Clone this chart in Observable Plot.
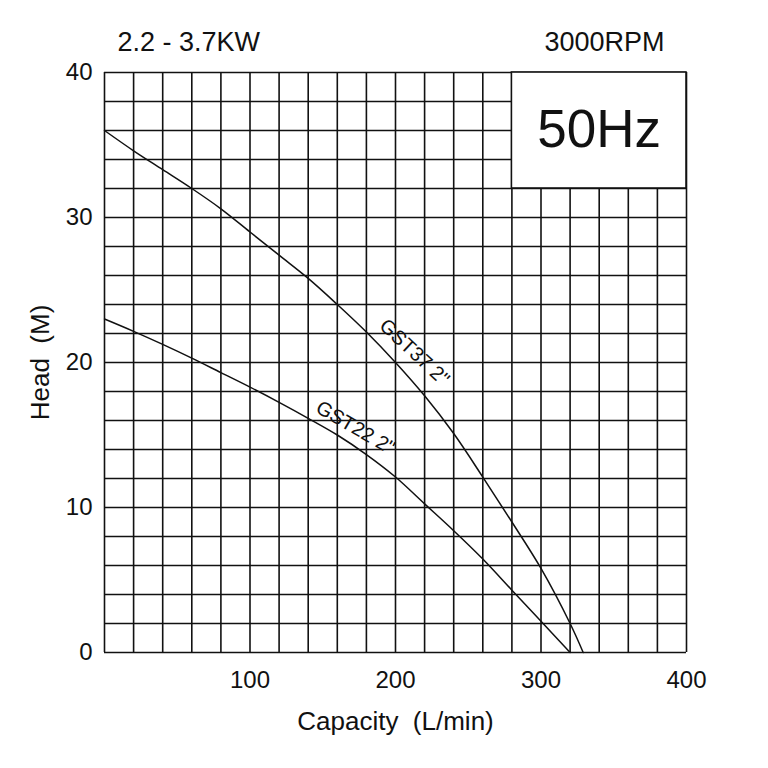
<!DOCTYPE html>
<html>
<head>
<meta charset="utf-8">
<script src="https://cdn.jsdelivr.net/npm/d3@7"></script>
<script src="https://cdn.jsdelivr.net/npm/@observablehq/plot@0.6"></script>
<style>
  html, body { margin: 0; padding: 0; background: #fff; }
  #chart { width: 768px; height: 768px; }
</style>
</head>
<body>
<div id="chart"></div>
<script>
// ---- data ----
const gst37Capacity = [0, 20, 40, 60, 80, 100, 120, 140, 160, 180, 200, 220, 240, 260, 280, 300, 320, 329];
const gst37Head     = [36, 34.6, 33.3, 32.0, 30.6, 29.0, 27.4, 25.8, 24.0, 22.1, 20.0, 17.7, 15.1, 12.1, 9.0, 5.8, 2.0, 0];
const gst22Capacity = [0, 20, 40, 60, 80, 100, 120, 140, 160, 180, 200, 220, 240, 260, 280, 300, 320];
const gst22Head     = [23.0, 22.15, 21.25, 20.3, 19.3, 18.3, 17.25, 16.15, 15.0, 13.65, 12.1, 10.25, 8.4, 6.45, 4.3, 2.15, 0];
const xTicks = [100, 200, 300, 400];
const yTicks = [0, 10, 20, 30, 40];
const xGrid = d3.range(0, 401, 20);
const yGrid = d3.range(0, 41, 2);
const curveLabels = [
  {name: "GST37 2\"", capacity: 213, head: 20.7, angle: 43},
  {name: "GST22 2\"", capacity: 172.5, head: 15.5, angle: 30}
];
const freqBox = {x1: 280, x2: 400, y1: 32, y2: 40, label: "50Hz"};
const powerText = "2.2 - 3.7KW";
const speedText = "3000RPM";
const xTitle = "Capacity\u00a0 (L/min)";
const yTitle = "Head\u00a0 (M)";

const gst37 = gst37Capacity.map((c, i) => ({capacity: c, head: gst37Head[i]}));
const gst22 = gst22Capacity.map((c, i) => ({capacity: c, head: gst22Head[i]}));

const font = "'Liberation Sans', Arial, sans-serif";

const chart = Plot.plot({
  width: 768,
  height: 768,
  marginLeft: 104,
  marginRight: 82,
  marginTop: 72,
  marginBottom: 116,
  style: {fontFamily: font, fontSize: "24px", background: "#fff", color: "#111"},
  x: {domain: [0, 400]},
  y: {domain: [0, 40]},
  marks: [
    Plot.ruleX(xGrid, {stroke: "#111", strokeWidth: 1.6, strokeOpacity: 1}),
    Plot.ruleY(yGrid, {stroke: "#111", strokeWidth: 1.6, strokeOpacity: 1}),
    Plot.rect([freqBox], {x1: "x1", x2: "x2", y1: "y1", y2: "y2", fill: "#fff", stroke: "#111", strokeWidth: 1.6}),
    Plot.text([freqBox], {x: d => (d.x1 + d.x2) / 2, y: d => (d.y1 + d.y2) / 2, text: "label", fontSize: 53, fill: "#111", fontFamily: font}),
    Plot.line(gst37, {x: "capacity", y: "head", curve: "catmull-rom", stroke: "#111", strokeWidth: 1.5}),
    Plot.line(gst22, {x: "capacity", y: "head", curve: "catmull-rom", stroke: "#111", strokeWidth: 1.5}),
    Plot.text(curveLabels, {x: "capacity", y: "head", text: "name", rotate: "angle", fontSize: 20, fill: "#111", fontFamily: font}),
    Plot.axisX({ticks: xTicks, tickSize: 0, tickPadding: 18, fontSize: 24, label: null, fontFamily: font}),
    Plot.axisY({ticks: yTicks, tickSize: 0, tickPadding: 12, fontSize: 24, label: null, fontFamily: font}),
    Plot.text([xTitle], {frameAnchor: "bottom", textAnchor: "middle", lineAnchor: "middle", dy: 69, fontSize: 26, fill: "#111", fontFamily: font}),
    Plot.text([yTitle], {frameAnchor: "left", textAnchor: "middle", lineAnchor: "middle", dx: -64, rotate: -90, fontSize: 26, fill: "#111", fontFamily: font}),
    Plot.text([powerText], {frameAnchor: "top-left", textAnchor: "start", lineAnchor: "middle", dx: 13, dy: -30, fontSize: 27, fill: "#111", fontFamily: font}),
    Plot.text([speedText], {frameAnchor: "top-right", textAnchor: "end", lineAnchor: "middle", dx: -22, dy: -30, fontSize: 27, fill: "#111", fontFamily: font})
  ]
});
document.getElementById("chart").appendChild(chart);
</script>
</body>
</html>
